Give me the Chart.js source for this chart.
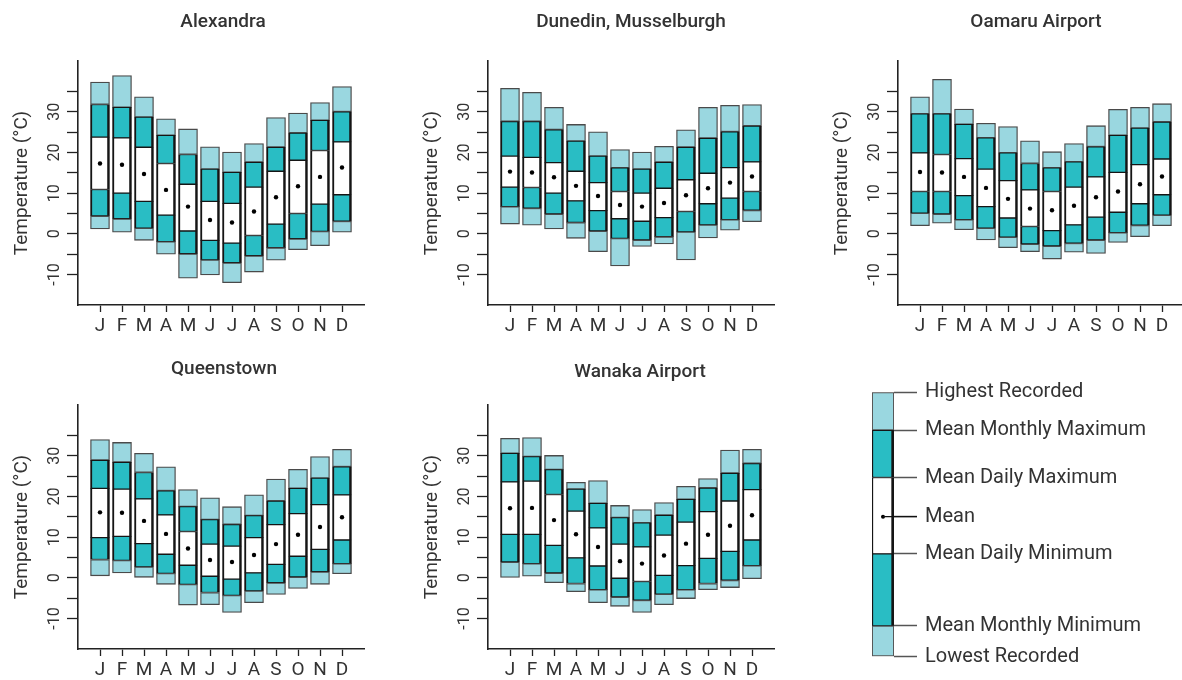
<!DOCTYPE html>
<html><head><meta charset="utf-8">
<script src="https://cdn.jsdelivr.net/npm/chart.js@4.4.1/dist/chart.umd.min.js"></script>
<style>
html,body{margin:0;padding:0;background:#fff;overflow:hidden;width:1182px;height:680px;position:relative;}
canvas{position:absolute;}
</style></head><body>
<script>
// ---------- data ----------
const months = ['J','F','M','A','M','J','J','A','S','O','N','D'];
const yTickValues = [-10,-5,0,5,10,15,20,25,30,35];
const yTickLabels = ['-10','','0','','10','','20','','30',''];
const yAxisTitle = 'Temperature (°C)';

const alexHighest    = [37.3,38.9,33.7,28.3,25.8,21.4,20.1,22.2,28.6,29.7,32.3,36.2];
const alexMonthlyMax = [31.8,31.1,28.7,24.2,19.5,15.9,15.1,17.6,21.3,24.8,27.9,30.0];
const alexDailyMax   = [23.8,23.6,21.3,17.3,12.2,8.0,7.5,11.5,15.4,18.1,20.5,22.6];
const alexMean       = [17.3,17.0,14.7,10.8,6.7,3.4,2.8,5.5,9.0,11.7,14.0,16.3];
const alexDailyMin   = [10.9,10.0,8.0,4.6,0.7,-1.6,-2.3,-0.4,2.4,5.0,7.3,9.6];
const alexMonthlyMin = [4.4,3.7,1.4,-1.9,-4.9,-6.4,-7.1,-5.4,-3.4,-1.2,0.6,3.1];
const alexLowest     = [1.2,0.4,-1.6,-5.0,-10.9,-10.1,-12.0,-9.4,-6.5,-3.9,-2.9,0.4];

const dunHighest    = [35.8,34.8,31.1,26.9,25.1,20.7,20.1,21.5,25.6,31.1,31.6,31.8];
const dunMonthlyMax = [27.6,27.6,25.6,22.8,19.1,16.2,15.9,17.6,21.3,23.5,25.1,26.5];
const dunDailyMax   = [19.1,18.8,17.5,15.4,12.6,10.4,10.0,11.2,13.3,14.9,16.3,17.7];
const dunMean       = [15.3,15.1,13.9,11.8,9.3,7.1,6.7,7.6,9.5,11.2,12.6,14.1];
const dunDailyMin   = [11.5,11.4,10.0,8.1,5.7,3.7,3.1,4.0,5.5,7.4,8.8,10.4];
const dunMonthlyMin = [6.7,6.3,4.9,2.8,0.7,-1.1,-1.5,-0.7,0.5,2.2,3.5,5.8];
const dunLowest     = [2.4,2.1,1.2,-1.1,-4.4,-7.9,-3.1,-2.5,-6.4,-1.0,0.9,3.0];

const oamHighest    = [33.7,38.0,30.7,27.2,26.4,22.9,20.2,22.2,26.6,30.6,31.1,32.0];
const oamMonthlyMax = [29.5,29.5,26.9,23.6,19.9,17.3,16.2,17.7,21.4,24.2,26.0,27.5];
const oamDailyMax   = [19.9,19.5,18.5,15.9,13.1,10.8,10.4,11.5,14.0,15.1,17.0,18.4];
const oamMean       = [15.2,15.1,14.0,11.3,8.6,6.2,5.8,6.9,9.0,10.4,12.2,14.1];
const oamDailyMin   = [10.4,10.4,9.4,6.7,3.9,1.8,0.8,2.2,4.1,5.3,7.4,9.6];
const oamMonthlyMin = [5.1,4.9,3.5,1.4,-0.8,-2.5,-3.0,-2.3,-1.5,0.3,2.1,4.6];
const oamLowest     = [2.0,2.6,1.0,-1.5,-3.4,-4.4,-6.2,-4.5,-4.8,-2.1,-0.7,2.0];

const qtnHighest    = [34.0,33.3,30.6,27.3,21.7,19.7,17.5,20.4,24.3,26.7,29.8,31.6];
const qtnMonthlyMax = [28.9,28.4,25.9,21.4,17.5,14.3,13.1,15.3,18.9,22.0,24.5,27.3];
const qtnDailyMax   = [22.0,21.8,19.4,15.5,11.4,8.3,7.8,9.9,13.1,15.8,18.0,20.4];
const qtnMean       = [16.1,16.0,14.0,10.8,7.2,4.4,3.9,5.6,8.3,10.6,12.5,14.9];
const qtnDailyMin   = [9.9,10.2,8.4,5.8,3.1,0.4,-0.3,1.2,3.3,5.3,7.0,9.3];
const qtnMonthlyMin = [4.5,4.3,2.7,1.1,-1.6,-3.6,-4.3,-3.2,-1.2,0.2,1.5,3.5];
const qtnLowest     = [0.5,1.2,0.0,-1.6,-6.7,-6.6,-8.5,-6.1,-4.1,-2.6,-1.6,1.0];

const wanHighest    = [34.3,34.5,30.1,23.5,23.9,17.8,16.8,18.5,22.5,24.4,31.4,31.6];
const wanMonthlyMax = [30.6,29.8,26.6,21.8,18.3,14.8,13.5,15.4,19.3,22.1,25.7,28.1];
const wanDailyMax   = [23.6,23.8,20.5,16.4,12.3,8.3,7.6,10.5,13.7,16.3,18.9,21.7];
const wanMean       = [17.1,17.2,14.2,10.7,7.6,4.1,3.5,5.5,8.4,10.6,12.8,15.4];
const wanDailyMin   = [10.7,10.7,8.0,4.9,2.9,-0.1,-0.9,0.6,3.0,4.8,6.5,9.3];
const wanMonthlyMin = [3.9,3.5,1.2,-1.4,-2.9,-4.7,-5.5,-4.0,-2.9,-1.4,-0.6,3.0];
const wanLowest     = [0.1,0.4,-1.2,-3.4,-6.1,-7.0,-8.5,-6.6,-5.1,-2.9,-2.4,-0.2];

const legendLabels = ['Highest Recorded','Mean Monthly Maximum','Mean Daily Maximum','Mean','Mean Daily Minimum','Mean Monthly Minimum','Lowest Recorded'];
const legendLevels = [66.1,56.6,44.8,35.0,25.7,7.7,0];

// ---------- styles ----------
const FONT = 'Roboto, "Noto Sans", sans-serif';
const TXT = '#333';
const LIGHT = '#9ad7e0';
const TEAL = '#29bdc4';
const AXIS = '#222';
Chart.defaults.font.family = FONT;
Chart.defaults.color = TXT;

const panelTitle = {
  id: 'panelTitle',
  afterDraw(chart, args, o) {
    if (!o || !o.text) return;
    const ctx = chart.ctx;
    ctx.save();
    ctx.font = '500 19px ' + FONT;
    ctx.fillStyle = TXT;
    ctx.textAlign = 'center';
    ctx.textBaseline = 'middle';
    ctx.fillText(o.text, o.x, o.y);
    ctx.restore();
  }
};

function makeCanvas(left, top, w, h) {
  const cv = document.createElement('canvas');
  cv.width = w; cv.height = h;
  cv.style.left = left + 'px'; cv.style.top = top + 'px';
  cv.style.width = w + 'px'; cv.style.height = h + 'px';
  document.body.appendChild(cv);
  return cv;
}

const lightStyle = {backgroundColor: LIGHT, borderColor: '#4a4a4a', borderWidth: 1.3};
const darkBorder = {top: 1, bottom: 1, left: 2, right: 2.6};
const tealStyle = {backgroundColor: TEAL, borderColor: '#151515', borderWidth: darkBorder};
const whiteStyle = {backgroundColor: '#ffffff', borderColor: '#151515', borderWidth: darkBorder};

function makePanel(p) {
  const cv = makeCanvas(p.left, p.top, p.w, p.h);
  const s = p.series;
  const seg = (a, b) => months.map((m, i) => ({x: i + 1, y: [a[i], b[i]]}));
  const bar = (data, st) => Object.assign({type: 'bar', data, grouped: false, barThickness: 19, borderSkipped: false, order: 1}, st);
  new Chart(cv, {
    type: 'bar',
    data: {
      datasets: [
        {type: 'scatter', order: 0, data: months.map((m, i) => ({x: i + 1, y: s.mean[i]})), pointRadius: 2.2, pointBackgroundColor: '#000', pointBorderWidth: 0},
        bar(seg(s.lowest, s.monthlyMin), lightStyle),
        bar(seg(s.monthlyMin, s.dailyMin), tealStyle),
        bar(seg(s.dailyMin, s.dailyMax), whiteStyle),
        bar(seg(s.dailyMax, s.monthlyMax), tealStyle),
        bar(seg(s.monthlyMax, s.highest), lightStyle)
      ]
    },
    options: {
      responsive: false, animation: false, devicePixelRatio: 1,
      layout: {padding: {left: 0, top: p.T - p.top, right: p.left + p.w - p.R, bottom: 0}},
      plugins: {legend: {display: false}, tooltip: {enabled: false}, panelTitle: {text: p.title, x: p.titleX - p.left, y: p.titleY - p.top}},
      scales: {
        x: {
          type: 'linear', min: 0, max: 13, offset: false,
          afterBuildTicks: sc => { sc.ticks = months.map((m, i) => ({value: i + 1})); },
          afterFit: sc => { sc.height = p.top + p.h - p.B; },
          ticks: {autoSkip: false, maxRotation: 0, padding: 3, callback: (v, i) => months[i], font: {size: 19}, color: TXT},
          grid: {drawOnChartArea: false, offset: false, tickLength: 7, color: AXIS, tickWidth: 1.3},
          border: {color: AXIS, width: 1.6}
        },
        y: {
          min: -17.5, max: 42.5,
          afterBuildTicks: sc => { sc.ticks = yTickValues.map(v => ({value: v})); },
          afterFit: sc => { sc.width = p.L - p.left; },
          ticks: {autoSkip: false, minRotation: 90, maxRotation: 90, crossAlign: 'center', padding: 1, callback: (v, i) => yTickLabels[i], font: {size: 16}, color: TXT},
          title: {display: true, text: yAxisTitle, padding: {top: 11, bottom: 0}, font: {size: 19}, color: TXT},
          grid: {drawOnChartArea: false, tickLength: 11, color: AXIS, tickWidth: 1.3},
          border: {color: AXIS, width: 1.6}
        }
      }
    },
    plugins: [panelTitle]
  });
}

const panels = [
  {title: 'Alexandra', titleX: 223, titleY: 22, left: 0, top: 0, w: 390, h: 345, L: 78, R: 364, T: 61, B: 305,
   series: {highest: alexHighest, monthlyMax: alexMonthlyMax, dailyMax: alexDailyMax, mean: alexMean, dailyMin: alexDailyMin, monthlyMin: alexMonthlyMin, lowest: alexLowest}},
  {title: 'Dunedin, Musselburgh', titleX: 631, titleY: 22, left: 410, top: 0, w: 390, h: 345, L: 488, R: 774, T: 61, B: 305,
   series: {highest: dunHighest, monthlyMax: dunMonthlyMax, dailyMax: dunDailyMax, mean: dunMean, dailyMin: dunDailyMin, monthlyMin: dunMonthlyMin, lowest: dunLowest}},
  {title: 'Oamaru Airport', titleX: 1036, titleY: 22, left: 820, top: 0, w: 370, h: 345, L: 898, R: 1184, T: 61, B: 305,
   series: {highest: oamHighest, monthlyMax: oamMonthlyMax, dailyMax: oamDailyMax, mean: oamMean, dailyMin: oamDailyMin, monthlyMin: oamMonthlyMin, lowest: oamLowest}},
  {title: 'Queenstown', titleX: 224, titleY: 369, left: 0, top: 345, w: 390, h: 335, L: 78, R: 364, T: 405, B: 649,
   series: {highest: qtnHighest, monthlyMax: qtnMonthlyMax, dailyMax: qtnDailyMax, mean: qtnMean, dailyMin: qtnDailyMin, monthlyMin: qtnMonthlyMin, lowest: qtnLowest}},
  {title: 'Wanaka Airport', titleX: 640, titleY: 372, left: 410, top: 345, w: 390, h: 335, L: 488, R: 774, T: 405, B: 649,
   series: {highest: wanHighest, monthlyMax: wanMonthlyMax, dailyMax: wanDailyMax, mean: wanMean, dailyMin: wanDailyMin, monthlyMin: wanMonthlyMin, lowest: wanLowest}}
];
panels.forEach(makePanel);

// ---------- legend key ----------
const meanLine = {
  id: 'meanLine',
  afterDraw(chart) {
    const ctx = chart.ctx;
    const y = chart.scales.y.getPixelForValue(legendLevels[3]);
    const x0 = chart.scales.x.getPixelForValue(0);
    ctx.save();
    ctx.strokeStyle = '#111'; ctx.lineWidth = 1.3;
    ctx.beginPath(); ctx.moveTo(x0, y); ctx.lineTo(chart.chartArea.right + 23, y); ctx.stroke();
    ctx.restore();
  }
};
(function () {
  const lg = {left: 860, top: 345, w: 322, h: 335, L: 872, R: 894, T: 392.3, B: 656.7};
  const cv = makeCanvas(lg.left, lg.top, lg.w, lg.h);
  const lv = legendLevels;
  const bar = (a, b, st) => Object.assign({data: [[a, b]], grouped: false, barPercentage: 1, categoryPercentage: 1, borderSkipped: false, order: 1}, st);
  const darkB = {top: 1, bottom: 1, left: 1.5, right: 3};
  new Chart(cv, {
    type: 'bar',
    data: {
      labels: ['key'],
      datasets: [
        {type: 'line', order: 0, data: [lv[3]], showLine: false, pointRadius: 2, pointBackgroundColor: '#000', pointBorderWidth: 0},
        bar(lv[6], lv[5], {backgroundColor: LIGHT, borderColor: '#555', borderWidth: 1.3}),
        bar(lv[5], lv[4], {backgroundColor: TEAL, borderColor: '#151515', borderWidth: darkB}),
        bar(lv[4], lv[2], {backgroundColor: '#fff', borderColor: '#151515', borderWidth: darkB}),
        bar(lv[2], lv[1], {backgroundColor: TEAL, borderColor: '#151515', borderWidth: darkB}),
        bar(lv[1], lv[0], {backgroundColor: LIGHT, borderColor: '#555', borderWidth: 1.3})
      ]
    },
    options: {
      responsive: false, animation: false, devicePixelRatio: 1,
      layout: {padding: {left: lg.L - lg.left, top: lg.T - lg.top, right: 0, bottom: lg.top + lg.h - lg.B}},
      plugins: {legend: {display: false}, tooltip: {enabled: false}},
      scales: {
        x: {display: false, offset: true},
        y: {
          position: 'right', min: 0, max: lv[0],
          afterBuildTicks: sc => { sc.ticks = lv.map(v => ({value: v})); },
          afterFit: sc => { sc.width = lg.left + lg.w - lg.R; },
          ticks: {autoSkip: false, padding: 8, callback: (v, i) => legendLabels[i], font: {size: 20}, color: TXT},
          grid: {drawOnChartArea: false, tickLength: 23, color: '#555', tickWidth: 1.5},
          border: {display: false}
        }
      }
    },
    plugins: [meanLine]
  });
})();
</script>
</body></html>
